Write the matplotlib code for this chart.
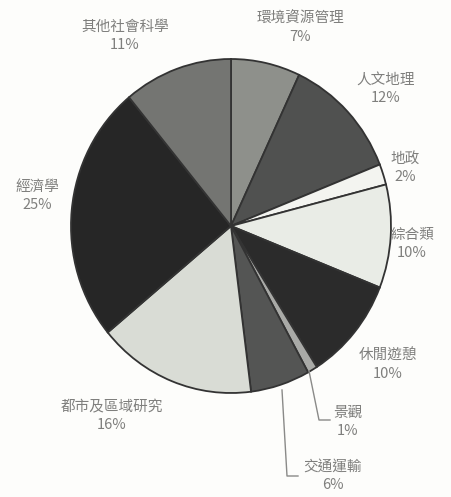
import matplotlib.pyplot as plt

plt.rcParams['font.family'] = ['Noto Sans CJK TC', 'DejaVu Sans']

# share of each field, clockwise from the top
fields = ['環境資源管理', '人文地理', '地政', '綜合類', '休閒遊憩',
          '景觀', '交通運輸', '都市及區域研究', '經濟學', '其他社會科學']
shares = [7, 12, 2, 10, 10, 1, 6, 16, 25, 11]

colours = ['#8e908b', '#505150', '#f3f4f0', '#e9ece6', '#2b2b2b',
           '#a9aaa7', '#545554', '#d9dcd5', '#262626', '#747572']

# label centres in pixels (x, y from top) - layout only
label_px = [(300, 28), (386, 89), (405, 168), (412, 244), (388, 365),
            (348, 422), (333, 476), (112, 416), (37, 196), (125, 36)]

W, H = 451, 497
fig = plt.figure(figsize=(W / 100, H / 100), dpi=100)
fig.patch.set_facecolor('#fdfdfb')

cx, cy, rx, ry = 231, 226, 160, 167
ax = fig.add_axes([(cx - rx) / W, 1 - (cy + ry) / H, 2 * rx / W, 2 * ry / H])
ax.pie(shares, colors=colours, startangle=90, counterclock=False,
       wedgeprops=dict(edgecolor='#333333', linewidth=1.3))
ax.set_xlim(-1, 1)
ax.set_ylim(-1, 1)
ax.set_aspect('auto')
ax.axis('off')

for name, val, (px, py) in zip(fields, shares, label_px):
    fig.text(px / W, 1 - py / H, name + '\n' + str(val) + '%',
             ha='center', va='center', fontsize=10.5, color='#7f7f7d',
             linespacing=1.35)

# leader lines for the two small slices at the bottom
def px2fig(p):
    return (p[0] / W, 1 - p[1] / H)

for pts in [[(309, 371), (319, 420), (330, 420)],
            [(282, 390), (287, 476), (298, 476)]]:
    xs, ys = zip(*[px2fig(p) for p in pts])
    fig.add_artist(plt.Line2D(xs, ys, color='#8a8a88', linewidth=1))

plt.savefig('out.png', dpi=100, facecolor=fig.get_facecolor())
